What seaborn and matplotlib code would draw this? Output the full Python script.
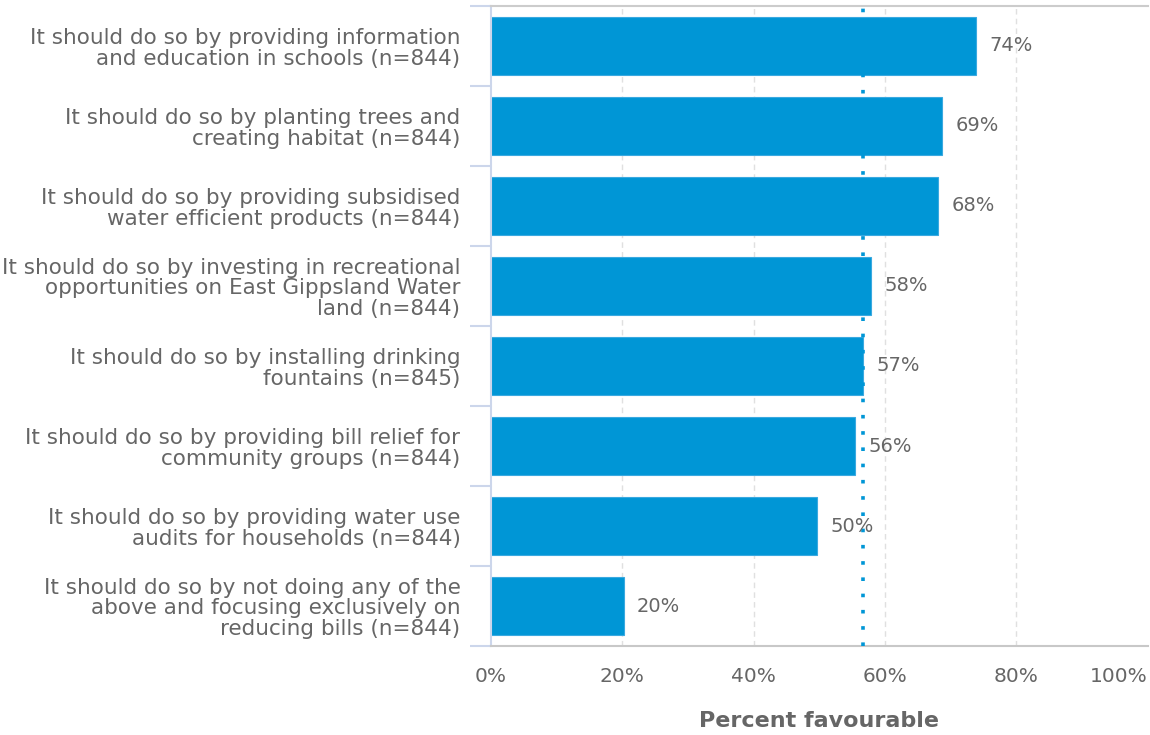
import numpy as np
import pandas as pd
import matplotlib
matplotlib.use("Agg")
import matplotlib.pyplot as plt
import seaborn as sns
from matplotlib.ticker import FixedLocator

# Data
categories = [
    "It should do so by providing information\nand education in schools (n=844)",
    "It should do so by planting trees and\ncreating habitat (n=844)",
    "It should do so by providing subsidised\nwater efficient products (n=844)",
    "It should do so by investing in recreational\nopportunities on East Gippsland Water\nland (n=844)",
    "It should do so by installing drinking\nfountains (n=845)",
    "It should do so by providing bill relief for\ncommunity groups (n=844)",
    "It should do so by providing water use\naudits for households (n=844)",
    "It should do so by not doing any of the\nabove and focusing exclusively on\nreducing bills (n=844)",
]
percent_favourable = [73.9, 68.7, 68.1, 57.9, 56.7, 55.5, 49.7, 20.2]
value_labels = ["74%", "69%", "68%", "58%", "57%", "56%", "50%", "20%"]
average_line = 56.7
x_ticks = [0, 20, 40, 60, 80, 100]

df = pd.DataFrame({"category": categories, "value": percent_favourable})

sns.set_style("white")
plt.rcParams["font.family"] = ["DejaVu Sans"]

text_grey = "#666666"
bar_blue = "#0096D6"

fig = plt.figure(figsize=(11.5, 7.35), dpi=100)
ax = fig.add_axes([0.427, 0.121, 0.571, 0.871])

sns.barplot(data=df, x="value", y="category", orient="h", color=bar_blue,
            width=0.73, saturation=1, ax=ax, edgecolor="#3aa9e0", linewidth=0.8)

ax.set_xlim(0, 100)
ax.set_ylim(len(categories) - 0.5, -0.5)

# Gridlines
for t in x_ticks[1:-1]:
    ax.axvline(t, color="#e0e0e0", linestyle=(0, (4, 3)), linewidth=1, zorder=0)

# Average reference line
ax.axvline(average_line, color=bar_blue, linestyle=(0, (1, 3.5)), linewidth=2.6, zorder=3)

# Value labels
for i, (v, lab) in enumerate(zip(percent_favourable, value_labels)):
    ax.text(v + 2.0, i, lab, va="center", ha="left", fontsize=14, color=text_grey)

# Axes styling
ax.spines["right"].set_visible(False)
ax.spines["top"].set_color("#cccccc")
ax.spines["top"].set_linewidth(1.5)
ax.spines["left"].set_color("#ccd6eb")
ax.spines["left"].set_linewidth(1.5)
ax.spines["bottom"].set_color("#c8c8c8")
ax.spines["bottom"].set_linewidth(1.5)

ax.set_xticks(x_ticks)
ax.set_xticklabels([f"{t}%" for t in x_ticks])
ax.tick_params(axis="x", length=0, pad=15, labelsize=14.5, labelcolor=text_grey)
xl = ax.get_xticklabels()
xl[-1].set_horizontalalignment("right")
xl[-1].set_x(100)

ax.set_yticks(range(len(categories)))
ax.set_yticklabels(categories)
ax.tick_params(axis="y", which="major", left=False, length=0, pad=22,
               labelsize=15.5, labelcolor=text_grey)
for lbl in ax.get_yticklabels():
    lbl.set_linespacing(1.04)
ax.yaxis.set_minor_locator(FixedLocator(np.arange(-0.5, len(categories), 1.0)))
ax.tick_params(axis="y", which="minor", left=True, length=15, width=1.5,
               color="#ccd6eb")

ax.set_ylabel("")
ax.set_xlabel("Percent favourable", fontsize=16, fontweight="semibold",
              color=text_grey, labelpad=18)

plt.savefig("out.png", dpi=100)
plt.close()
